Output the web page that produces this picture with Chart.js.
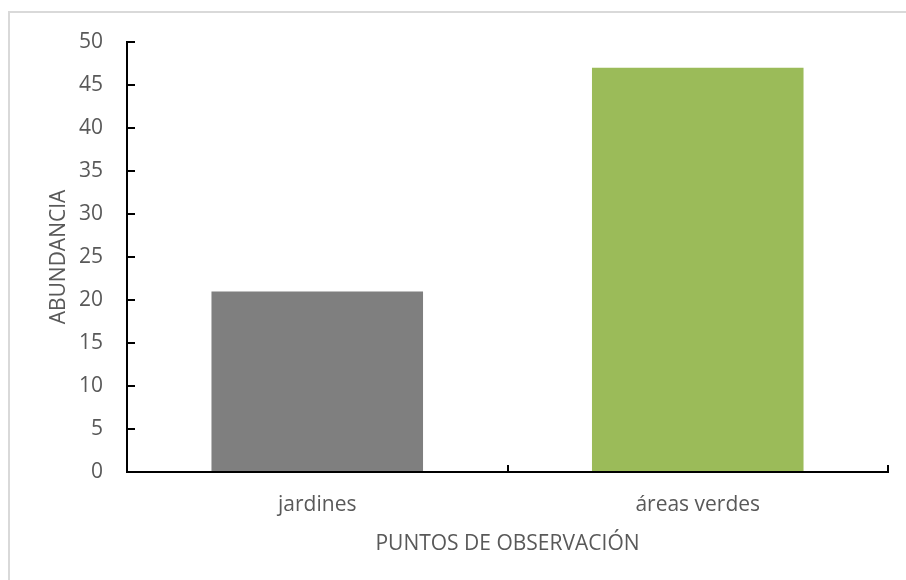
<!DOCTYPE html>
<html>
<head>
<meta charset="utf-8">
<script src="https://cdn.jsdelivr.net/npm/chart.js@4/dist/chart.umd.min.js"></script>
<style>
  html, body { margin: 0; padding: 0; background: #fff; overflow: hidden; }
  #wrap { position: relative; width: 906px; height: 580px; }
  #frame { position: absolute; left: 8px; top: 11px; width: 1000px; height: 700px;
           border-left: 2px solid #d9d9d9; border-top: 2px solid #d9d9d9; box-sizing: border-box; }
  canvas { position: absolute; left: 0; top: 0; }
</style>
</head>
<body>
<div id="wrap">
  <div id="frame"></div>
  <canvas id="c" width="906" height="580"></canvas>
</div>
<script>
const categories = ["jardines", "áreas verdes"];
const abundancia = [21, 47];
const barColors = ["#7f7f7f", "#9bbb59"];
const yTitle = "ABUNDANCIA";
const xTitle = "PUNTOS DE OBSERVACIÓN";
const yMin = 0, yMax = 50, yStep = 5;

const FONT = "'Open Sans', sans-serif";
const TXT = "#595959";

const innerTicks = {
  id: 'innerTicks',
  afterDatasetsDraw(chart) {
    const ctx = chart.ctx;
    const xs = chart.scales.x, ys = chart.scales.y;
    const ca = chart.chartArea;
    ctx.save();
    ctx.strokeStyle = "#000";
    ctx.lineWidth = 2;
    ctx.beginPath();
    ys.ticks.forEach(t => {
      const py = Math.round(ys.getPixelForValue(t.value));
      ctx.moveTo(ca.left, py);
      ctx.lineTo(ca.left + 8, py);
    });
    const n = categories.length;
    for (let i = 0; i <= n; i++) {
      let px;
      if (i === 0) px = ca.left;
      else if (i === n) px = ca.right;
      else px = (xs.getPixelForValue(i - 1) + xs.getPixelForValue(i)) / 2;
      px = Math.round(px);
      ctx.moveTo(px, ca.bottom);
      ctx.lineTo(px, ca.bottom - 7);
    }
    ctx.stroke();
    ctx.restore();
  }
};

new Chart(document.getElementById('c'), {
  type: 'bar',
  data: {
    labels: categories,
    datasets: [{
      data: abundancia,
      backgroundColor: barColors,
      borderWidth: 0,
      categoryPercentage: 1,
      barPercentage: 0.556
    }]
  },
  options: {
    responsive: false,
    animation: false,
    devicePixelRatio: 1,
    layout: { padding: { left: 0, right: 18, top: 42, bottom: 0 } },
    plugins: { legend: { display: false }, tooltip: { enabled: false } },
    scales: {
      x: {
        offset: true,
        grid: { display: false, drawTicks: false },
        border: { display: true, color: "#000", width: 2, z: 1 },
        ticks: { color: TXT, font: { family: FONT, size: 21 }, padding: 20 },
        title: { display: true, text: xTitle, color: TXT, font: { family: FONT, size: 21 }, padding: { top: 0, bottom: 23 } },
        afterFit(s) { s.height = 108; }
      },
      y: {
        min: yMin, max: yMax,
        grid: { display: false, drawTicks: false },
        border: { display: true, color: "#000", width: 2, z: 1 },
        ticks: { stepSize: yStep, color: TXT, font: { family: FONT, size: 21 }, padding: 24 },
        title: { display: true, text: yTitle, color: TXT, font: { family: FONT, size: 21 }, padding: { top: 46, bottom: 0 } },
        afterFit(s) { s.width = 127; }
      }
    }
  },
  plugins: [innerTicks]
});
</script>
</body>
</html>
